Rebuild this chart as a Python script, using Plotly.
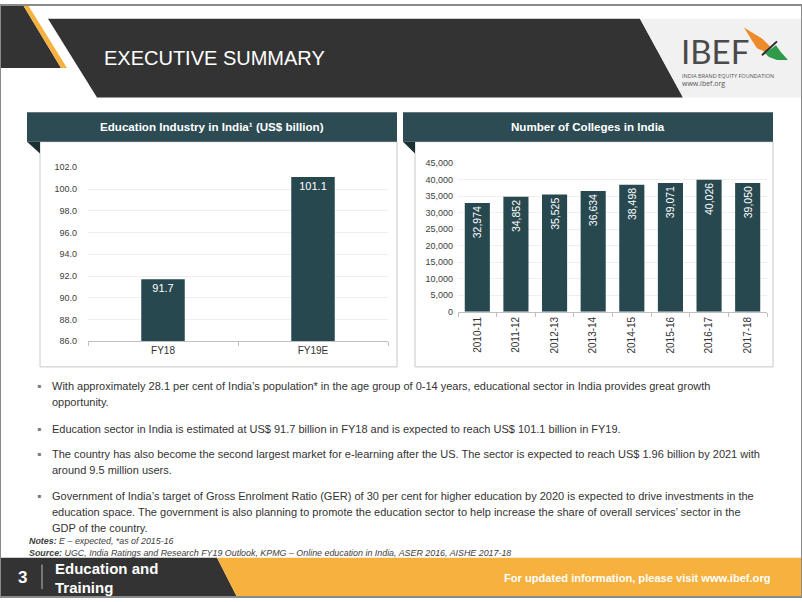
import plotly.graph_objects as go

W, H = 802, 602

edu_categories = ["FY18", "FY19E"]
edu_values = [91.7, 101.1]
edu_ticks = [86, 88, 90, 92, 94, 96, 98, 100, 102]

college_years = ["2010-11", "2011-12", "2012-13", "2013-14", "2014-15", "2015-16", "2016-17", "2017-18"]
college_counts = [32974, 34852, 35525, 36634, 38498, 39071, 40026, 39050]
college_ticks = [0, 5000, 10000, 15000, 20000, 25000, 30000, 35000, 40000, 45000]

bullets = [
    ["With approximately 28.1 per cent of India\u2019s population* in the age group of 0-14 years, educational sector in India provides great growth",
     "opportunity."],
    ["Education sector in India is estimated at US$ 91.7 billion in FY18 and is expected to reach US$ 101.1 billion in FY19."],
    ["The country has also become the second largest market for e-learning after the US. The sector is expected to reach US$ 1.96 billion by 2021 with",
     "around 9.5 million users."],
    ["Government of India\u2019s target of Gross Enrolment Ratio (GER) of 30 per cent for higher education by 2020 is expected to drive investments in the",
     "education space. The government is also planning to promote the education sector to help increase the share of overall services\u2019 sector in the",
     "GDP of the country."],
]
bullet_rows = [[387, 404], [431], [457, 473], [499, 516, 532]]

BAR = "#284850"
HEAD = "#2c4b53"
DARK = "#333333"
ORANGE = "#f6b13f"
SANS = "Liberation Sans, Arial, sans-serif"


def fx(x):
    return x / W


def fy(y):
    return 1 - y / H


def path(points):
    return "M " + " L ".join(f"{fx(x):.5f},{fy(y):.5f}" for x, y in points) + " Z"


shapes = []


def poly(points, color, layer="below"):
    shapes.append(dict(type="path", xref="paper", yref="paper", path=path(points),
                       fillcolor=color, line=dict(width=0), layer=layer))


def rect(x0, y0, x1, y1, fill, line_color=None, layer="below", lw=1):
    shapes.append(dict(type="rect", xref="paper", yref="paper",
                       x0=fx(x0), x1=fx(x1), y0=fy(y1), y1=fy(y0),
                       fillcolor=fill,
                       line=dict(width=lw if line_color else 0, color=line_color or fill),
                       layer=layer))


# header decorations
poly([(0, 0), (23, 0), (61, 64), (0, 64)], DARK)
poly([(23, 0), (28, 0), (67, 64), (61, 64)], ORANGE)
poly([(48, 14), (640, 14), (683, 94), (97, 94)], DARK)
poly([(640, 14), (802, 14), (802, 94), (683, 94)], "#f1f1f1")
# bird logo
poly([(744, 23), (752, 28), (762, 34), (770, 42), (766, 48), (757, 44), (752, 36)], "#ef8a2a")
poly([(765, 49), (776, 41), (781, 48), (788, 56), (777, 56), (769, 53)], "#2f9a47")
shapes.append(dict(type="line", xref="paper", yref="paper", x0=fx(762), y0=fy(51), x1=fx(777), y1=fy(37),
                   line=dict(color="#2b2b2b", width=2)))

# chart panels
for hx0, hx1, bx0 in [(27, 397, 40), (403, 773, 415)]:
    rect(bx0, 139, hx1, 368, "white", "#c8c8c8")
    rect(hx0, 109, hx1, 139, HEAD)
    poly([(hx0, 139), (bx0, 139), (bx0, 151)], "#1b2f34")

# footer
poly([(0, 562), (217, 562), (237, 602), (0, 602)], DARK)
poly([(217, 562), (802, 562), (802, 602), (237, 602)], ORANGE)
shapes.append(dict(type="line", xref="paper", yref="paper", x0=fx(42), x1=fx(42), y0=fy(569), y1=fy(594),
                   line=dict(color="#bdbdbd", width=1)))
# frame
shapes.append(dict(type="rect", xref="paper", yref="paper", x0=0, x1=1, y0=0, y1=1,
                   line=dict(color="#8a8a8a", width=2), layer="above"))

annotations = []


def text(x, y, s, size, color="#333333", family=SANS, xanchor="left", yanchor="middle", **kw):
    annotations.append(dict(x=fx(x), y=fy(y), xref="paper", yref="paper", text=s, showarrow=False,
                            xanchor=xanchor, yanchor=yanchor, font=dict(size=size, color=color, family=family), **kw))


text(102, 54, "EXECUTIVE SUMMARY", 20, "white")
text(679, 47, "IBEF", 33, "#4a4a4a", family="Lato, Open Sans, sans-serif")
text(680, 72, "INDIA BRAND EQUITY FOUNDATION", 5.5, "#555555", family="Open Sans, sans-serif")
text(680, 80, "www.ibef.org", 7, "#555555", family="Open Sans, sans-serif")

text(212, 124, "<b>Education Industry in India\u00b9 (US$ billion)</b>", 11.6, "white", xanchor="center")
text(588, 124, "<b>Number of Colleges in India</b>", 11.6, "white", xanchor="center")

for lines, rows in zip(bullets, bullet_rows):
    text(35, rows[0], "\u25aa", 12, "#7a7a7a")
    for ln, r in zip(lines, rows):
        text(50, r, ln, 11, "#333333")

text(27, 545, "<b><i>Notes:</i></b><i> E \u2013 expected, *as of 2015-16</i>", 8.9, "#404040")
text(27, 557, "<b><i>Source:</i></b><i> UGC, India Ratings and Research FY19 Outlook, KPMG \u2013 Online education in India, ASER 2016, AISHE 2017-18</i>", 8.9, "#404040")

text(22, 582, "<b>3</b>", 17, "white", xanchor="center")
text(53, 573, "<b>Education and</b>", 15, "white")
text(53, 592, "<b>Training</b>", 15, "white")
text(773, 583, "<b>For updated information, please visit www.ibef.org</b>", 11.1, "white", xanchor="right")

fig = go.Figure()

fig.add_trace(go.Bar(x=edu_categories, y=edu_values, marker=dict(color=BAR, line=dict(width=0)),
                     text=[f"{v:.1f}" for v in edu_values], textposition="inside", insidetextanchor="end",
                     textfont=dict(color="white", size=11, family=SANS), xaxis="x", yaxis="y",
                     hoverinfo="skip", constraintext="none", width=0.29))
fig.add_trace(go.Bar(x=college_years, y=college_counts, marker=dict(color=BAR, line=dict(width=0)),
                     text=[f"{v:,}" for v in college_counts], textposition="inside", insidetextanchor="end",
                     textangle=-90, textfont=dict(color="white", size=10.5, family=SANS),
                     xaxis="x2", yaxis="y2", hoverinfo="skip", constraintext="none", width=0.65))

axis_font = dict(size=9, color="#404040", family=SANS)
fig.update_layout(
    width=W, height=H, margin=dict(l=0, r=0, t=0, b=0),
    paper_bgcolor="white", plot_bgcolor="rgba(0,0,0,0)", showlegend=False,
    shapes=shapes, annotations=annotations,
    xaxis=dict(domain=[fx(88), fx(388)], anchor="y", type="category", showline=True, linecolor="#bfbfbf",
               ticks="outside", ticklen=4, tickcolor="#bfbfbf", tickson="boundaries",
               tickfont=dict(size=10, color="#333333", family=SANS), showgrid=False, fixedrange=True),
    yaxis=dict(domain=[fy(342), fy(165)], anchor="x", range=[86, 102], tickvals=edu_ticks,
               tickformat=".1f", tickfont=axis_font, showgrid=True, gridcolor="#efefef",
               zeroline=False, showline=False, ticks="", ticklabelstandoff=10, fixedrange=True),
    xaxis2=dict(domain=[fx(458), fx(767)], anchor="y2", type="category", showline=True, linecolor="#bfbfbf",
                ticks="outside", ticklen=4, tickcolor="#bfbfbf", tickson="boundaries", tickangle=-90,
                tickfont=dict(size=10, color="#333333", family=SANS), showgrid=False, fixedrange=True),
    yaxis2=dict(domain=[fy(312), fy(161)], anchor="x2", range=[0, 45000], tickvals=college_ticks,
                tickformat=",", tickfont=axis_font, showgrid=True, gridcolor="#efefef",
                zeroline=False, showline=False, ticks="", ticklabelstandoff=4, fixedrange=True),
    bargap=0.35,
)

post = ("var gd=document.getElementById('{plot_id}');"
        "gd.style.position='fixed';gd.style.left='0px';gd.style.top='0px';"
        "document.body.style.margin='0';document.documentElement.style.overflow='hidden';"
        "document.body.style.overflow='hidden';")
fig.write_html("out.html", config={"displayModeBar": False}, post_script=post)
